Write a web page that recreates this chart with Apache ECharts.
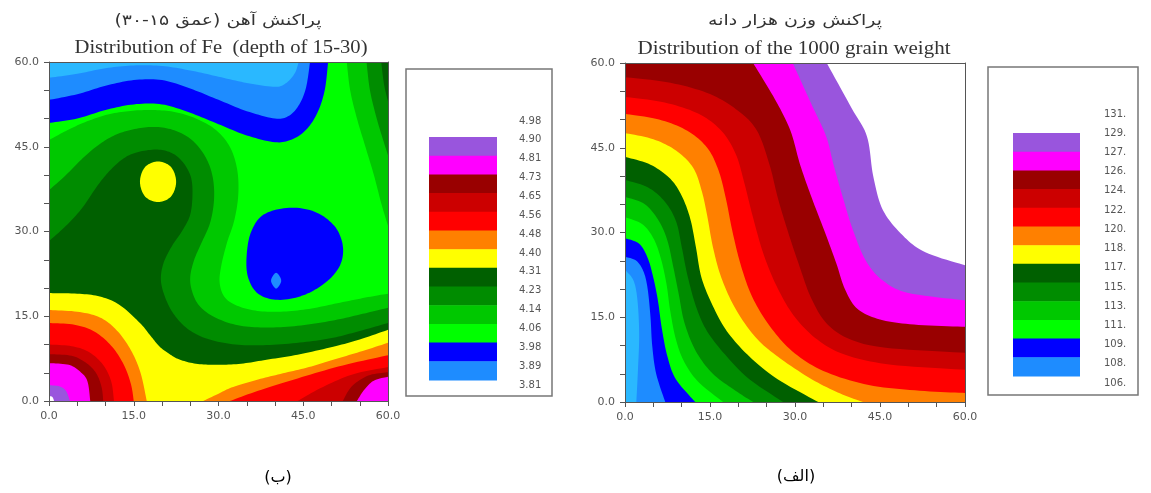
<!DOCTYPE html>
<html><head><meta charset="utf-8">
<script src="https://cdn.jsdelivr.net/npm/echarts@6/dist/echarts.min.js"></script>
<style>html,body{margin:0;padding:0;background:#fff}#c{width:1151px;height:493px}</style>
</head><body><div id="c"></div>
<script>
// ================= DATA =================
const axisTicks = [0, 15, 30, 45, 60];
const tickLabels = ['0.0', '15.0', '30.0', '45.0', '60.0'];

// Fe (depth 15-30) contour levels and legend labels
const feLevels = [3.81, 3.89, 3.98, 4.06, 4.14, 4.23, 4.31, 4.40, 4.48, 4.56, 4.65, 4.73, 4.81, 4.90, 4.98];
const feLabels = ['3.81', '3.89', '3.98', '4.06', '4.14', '4.23', '4.31', '4.40', '4.48', '4.56', '4.65', '4.73', '4.81', '4.90', '4.98'];

// 1000-grain weight contour levels and legend labels
const grainLevels = [106, 108, 109, 111, 113, 115, 117, 118, 120, 122, 124, 126, 127, 129, 131];
const grainLabels = ['106.', '108.', '109.', '111.', '113.', '115.', '117.', '118.', '120.', '122.', '124.', '126.', '127.', '129.', '131.'];

// contour regions: [level, side ('lo' = values below, 'hi' = values above), closing corners or 'closed', contour points [x, y]]
const feContours = [
  [3.98, 'lo', 'TL', [[0,49.2],[5,50],[10,51.5],[15,52.5],[20,52.5],[25,51],[30,49],[35,47],[40,45.8],[43,46.3],[45.5,48],[47.5,51],[48.8,55],[49.4,60]]],
  [3.89, 'lo', 'TL', [[0,53.3],[5,54.3],[10,55.8],[15,56.8],[20,56.8],[25,55.3],[30,53.3],[35,51.3],[40,50],[42.5,50.5],[44.3,52.5],[45.5,55.5],[46.2,60]]],
  [3.81, 'lo', 'TL', [[0,57.2],[5,57.9],[10,58.9],[15,59.4],[20,59.3],[25,58.5],[30,57.4],[35,56.3],[40,55.6],[42,56.3],[43.5,58],[44.2,60]]],
  [3.98, 'lo', 'closed', [[38,33],[42.5,34.2],[47,33.5],[50.5,31],[52,27.5],[51.5,24],[49,21],[45,18.7],[40.5,17.9],[37,19],[35.2,22],[35,26],[35.8,30]]],
  [3.89, 'lo', 'closed', [[40.2,22.7],[41.1,21.3],[40.2,19.9],[39.3,21.3]]],
  [4.06, 'hi', 'BR BL', [[0,46.2],[3,47.8],[6,49.2],[10,50.6],[14,51.3],[18,51.5],[22,51.2],[26,50],[29.5,48],[32,45],[33.3,41],[33.5,36.5],[32.8,32],[31.5,28],[30.5,24],[30.2,21],[31,18.5],[33,17],[36.5,16],[41,15.8],[46,16.3],[51,17.3],[56,18.3],[60,19]]],
  [4.06, 'hi', 'TR', [[52.7,60],[53.3,55],[54.5,50],[56,45],[57.5,40],[58.8,35],[60,31]]],
  [4.14, 'hi', 'BR BL', [[0,37.3],[3,40],[6,43],[9,45.5],[12,47.2],[15.5,48.2],[19,48.5],[22.5,47.8],[25.5,46],[27.8,43],[29,39.5],[29.2,35.5],[28.5,31.5],[27,28],[25.7,25],[25,22],[25.3,19.5],[26.5,17],[29,15],[33,13.5],[38,13],[44,13.3],[50,14.2],[55,15.3],[60,16.5]]],
  [4.14, 'hi', 'TR', [[56.2,60],[56.8,55],[58,50],[59.2,46],[60,43.5]]],
  [4.23, 'hi', 'BR BL', [[0,28.3],[3,31],[5.9,34.2],[8.5,38],[10.6,40.6],[13,42.8],[15.5,44],[18.9,44.5],[21.5,44],[23.5,42.5],[25,40],[25.4,37],[25,33],[23.5,30],[21.8,27.5],[20.3,24.5],[19.8,21.5],[20.5,18.5],[22,15.5],[24.5,12.8],[28,11],[33,10],[38.5,9.9],[45,10.4],[50.3,11.2],[55,12.4],[60,13.8]]],
  [4.23, 'hi', 'TR', [[58.8,60],[59.3,56],[60,53]]],
  [4.31, 'hi', 'BR BL', [[0,19.1],[5,19],[9,18.5],[12.5,17],[16.1,13.8],[18,11.5],[19.6,9.6],[21.5,8.2],[23.2,7.3],[26,6.6],[29.7,6.4],[34,6.6],[38.5,7.3],[44,8.2],[50.3,9.6],[55,10.9],[60,12.6]]],
  [4.31, 'hi', 'closed', [[19.3,42.4],[21.6,41.4],[22.5,38.8],[21.6,36.2],[19.3,35.2],[17,36.2],[16.1,38.8],[17,41.4]]],
  [4.40, 'hi', 'BL', [[0,16.1],[5,15.8],[9,14.8],[12,12.5],[14.5,9],[16.2,5],[17.3,0]]],
  [4.40, 'hi', 'BR', [[27.3,0],[30,1.3],[32.6,2.5],[37,3.8],[41.4,4.9],[46,6],[50.3,7.3],[55,8.7],[60,10.3]]],
  [4.48, 'hi', 'BL', [[0,13.8],[4.5,13.5],[8,12.3],[11,9.8],[13.2,6.5],[14.5,3],[15,0]]],
  [4.48, 'hi', 'BR', [[32,0],[37,1.8],[44,4],[52,6.3],[60,8.1]]],
  [4.56, 'hi', 'BL', [[0,10],[4,9.7],[7,8.7],[9.5,6.5],[11,3.5],[11.5,0]]],
  [4.56, 'hi', 'BR', [[44,0],[48.5,2.5],[54,4.8],[60,6]]],
  [4.65, 'hi', 'BL', [[0,8.3],[4,8],[6.5,6.8],[8.3,5],[9.3,2.5],[9.6,0]]],
  [4.65, 'hi', 'BR', [[52,0],[53.6,2.6],[56.5,4.5],[60,5.1]]],
  [4.73, 'hi', 'BL', [[0,6.7],[3.5,6.4],[5.5,5.2],[6.8,3.5],[7.3,0]]],
  [4.73, 'hi', 'BR', [[54.5,0],[55.8,2],[57.5,3.6],[60,4.3]]],
  [4.81, 'hi', 'BL', [[0,2.8],[1.8,2.6],[3,1.8],[3.7,0]]],
  [4.90, 'hi', 'BL', [[0,0.9],[0.6,0.7],[0.9,0]]]
];

const grainContours = [
  [106, 'hi', 'BR TR TL', [[0,23.4],[1.5,21.5],[2.2,18],[2.5,12],[2.3,6],[2,0]]],
  [108, 'hi', 'BR TR TL', [[0,25.7],[2,25],[3.3,23],[4,20],[4.5,15],[4.8,10],[5.5,5],[7.1,0]]],
  [109, 'hi', 'BR TR TL', [[0,29],[2.5,28],[4,25.5],[5,22],[5.8,18],[6.5,13],[7.5,8],[9,4],[12.4,0]]],
  [111, 'hi', 'BR TR TL', [[0,32.7],[3,31.5],[5,29],[6.3,25.5],[7.3,21],[8,16],[9,11],[10.5,7],[13,3.5],[17.3,0]]],
  [113, 'hi', 'BR TR TL', [[0,36.3],[3.5,35],[6,32],[7.5,28.5],[8.5,24],[9.5,19],[10.5,14],[12.5,9],[15.5,5],[19.5,2],[22.6,0]]],
  [115, 'hi', 'BR TR TL', [[0,39.3],[4,38],[7,35.5],[9,32],[10,27.5],[11,22.5],[12.5,17],[14.5,12.5],[18,8],[22,4],[27.9,0]]],
  [117, 'hi', 'BR TR TL', [[0,43.4],[4.5,42],[8,39.5],[10,36.5],[11.5,32.5],[12.5,27.5],[13.5,22],[15.5,17],[18,12.5],[22,8],[27,4],[34.1,0]]],
  [118, 'hi', 'BR TR TL', [[0,47.6],[5,46.5],[9,44.5],[12,41.5],[13.5,37.5],[14.5,33],[15.5,27.5],[17,22],[19.5,16.5],[23,11.5],[27,8],[33,4],[38,1.5],[42,0]]],
  [120, 'hi', 'TR TL', [[0,51],[6,50],[11,48],[14.5,45],[16.5,41],[17.8,36],[19,30],[20.5,24],[22.5,18.5],[25.5,13.5],[29.5,9],[35,5.5],[43,3],[52,2],[60,1.6]]],
  [122, 'hi', 'TR TL', [[0,54],[7,53],[13,51],[17,48],[19.5,44],[21,39],[22.5,33],[24.5,26],[27,20],[30,15],[34,11],[39,8.3],[47,6.6],[60,5.7]]],
  [124, 'hi', 'TR TL', [[0,57.5],[8,56.5],[15,54.5],[20,51.5],[23.3,48],[25.5,42],[27,36],[28.8,30],[30.8,24],[32.8,18.5],[35.5,14],[39.5,11.2],[46,9.6],[60,8.7]]],
  [126, 'hi', 'TR', [[22.6,60],[26.5,53.5],[29.2,48],[30.9,42],[33,36],[35.3,30],[37.3,24.5],[38.8,20],[41,16.5],[45,14.6],[51,13.7],[60,13.3]]],
  [127, 'hi', 'TR', [[29.6,60],[33,52.5],[35.5,47],[36.8,42],[38.5,36],[40.2,30.5],[42.5,25],[45.5,21.5],[50,19.3],[60,18]]],
  [129, 'hi', 'TR', [[35.6,60],[40,52],[42.7,47],[43.8,40],[45.5,34],[49,29.5],[53,26.5],[60,24.2]]]
];

// ================= STYLE / LAYOUT =================
// palette index i = band between level[i-1] and level[i]
const palette = ['#2ab8ff', '#1e8cff', '#0000ff', '#00ff00', '#00c800', '#008c00', '#006000',
  '#ffff00', '#ff8000', '#ff0000', '#cc0000', '#990000', '#ff00ff', '#9955dd', '#ffffff', '#ffffff'];
const AXMIN = 0, AXMAX = 60;
const CORNERS = { TL: [AXMIN, AXMAX], TR: [AXMAX, AXMAX], BR: [AXMAX, AXMIN], BL: [AXMIN, AXMIN] };
const AXC = '#555';

function spline(p, closed) {
  const n = p.length, out = [], steps = 10;
  const get = i => closed ? p[(i + n) % n] : p[Math.max(0, Math.min(n - 1, i))];
  const segs = closed ? n : n - 1;
  for (let i = 0; i < segs; i++) {
    const p0 = get(i - 1), p1 = get(i), p2 = get(i + 1), p3 = get(i + 2);
    for (let s = 0; s < steps; s++) {
      const t = s / steps, t2 = t * t, t3 = t2 * t;
      const f = k => 0.5 * (2 * p1[k] + (-p0[k] + p2[k]) * t + (2 * p0[k] - 5 * p1[k] + 4 * p2[k] - p3[k]) * t2 + (-p0[k] + 3 * p1[k] - 3 * p2[k] + p3[k]) * t3);
      out.push([f(0), f(1)]);
    }
  }
  if (!closed) out.push(p[n - 1]);
  return out;
}

function colorFor(levels, level, side) {
  let k = 0;
  levels.forEach((l, i) => { if (Math.abs(l - level) < 1e-6) k = i; });
  return side === 'hi' ? palette[k + 1] : palette[k];
}

function contourSeries(list, levels, axisIdx) {
  return {
    type: 'custom', xAxisIndex: axisIdx, yAxisIndex: axisIdx, clip: true, silent: true, z: 2,
    data: list.map((c, i) => ({ value: [30, 30, c[0]], name: String(i) })),
    renderItem: function (params, api) {
      const c = list[params.dataIndex];
      const px = c[3].map(p => api.coord(p));
      let poly;
      if (c[2] === 'closed') poly = spline(px, true);
      else {
        poly = spline(px, false);
        c[2].split(' ').forEach(k => poly.push(api.coord(CORNERS[k])));
      }
      return { type: 'polygon', shape: { points: poly }, style: { fill: colorFor(levels, c[0], c[1]), stroke: null } };
    }
  };
}

function axisPair(gi) {
  const common = { gridIndex: gi, type: 'value', min: AXMIN, max: AXMAX, interval: 15, z: 10,
    splitLine: { show: false } };
  const main = Object.assign({}, common, {
    axisLine: { show: true, onZero: false, lineStyle: { color: AXC, width: 1 } },
    axisTick: { show: true, length: 5, lineStyle: { color: AXC } },
    minorTick: { show: true, splitNumber: 3, length: 5, lineStyle: { color: AXC } },
    minorSplitLine: { show: false },
    axisLabel: { fontFamily: 'DejaVu Sans', fontSize: 11, color: '#555', margin: 10,
      formatter: v => tickLabels[axisTicks.indexOf(v)] || '' }
  });
  const frame = Object.assign({}, common, {
    axisLine: { show: true, onZero: false, lineStyle: { color: AXC, width: 1 } },
    axisTick: { show: false }, axisLabel: { show: false }
  });
  return { main, frame };
}

const xa0 = axisPair(0), ya0 = axisPair(0), xa1 = axisPair(1), ya1 = axisPair(1);

// text measuring to fit widths
const mctx = document.createElement('canvas').getContext('2d');
function fitText(text, font, x, y, targetW, fill) {
  mctx.font = font;
  const w = mctx.measureText(text).width;
  return { type: 'text', x: x, y: y, scaleX: targetW / w, z: 20,
    style: { text: text, font: font, fill: fill, align: 'center', verticalAlign: 'middle' } };
}

function legend(box, bar, labX, labTop, labBot, labels) {
  const g = [];
  g.push({ type: 'rect', shape: box, z: 20, style: { fill: '#fff', stroke: '#777', lineWidth: 1.5 } });
  const nb = 13, bh = bar.h / nb;
  for (let j = 0; j < nb; j++) {
    const k = 13 - j; // top purple .. bottom dodger
    g.push({ type: 'rect', z: 21, shape: { x: bar.x, y: bar.y + j * bh, width: bar.w, height: bh + 0.5 },
      style: { fill: palette[k] } });
  }
  const n = labels.length, step = (labBot - labTop) / (n - 1);
  for (let i = 0; i < n; i++) {
    g.push({ type: 'text', z: 22, x: labX, y: labBot - i * step,
      style: { text: labels[i], font: '10px DejaVu Sans', fill: '#555', align: 'left', verticalAlign: 'middle' } });
  }
  return g;
}

const RLM = '\u200F';
const graphics = [].concat(
  [
    fitText(RLM + 'پراکنش آهن (عمق ۱۵-۳۰)' + RLM, '15px DejaVu Sans', 218, 21, 207, '#333'),
    fitText('Distribution of Fe  (depth of 15-30)', '18px Liberation Serif', 221, 48, 293, '#333'),
    fitText(RLM + 'پراکنش وزن هزار دانه' + RLM, '15px DejaVu Sans', 795, 21, 174, '#333'),
    fitText('Distribution of the 1000 grain weight', '18px Liberation Serif', 794, 49, 313, '#333'),
    { type: 'text', x: 278, y: 478, z: 20, style: { text: RLM + '(ب)' + RLM, font: '16px DejaVu Sans', fill: '#000', align: 'center', verticalAlign: 'middle' } },
    { type: 'text', x: 796, y: 477, z: 20, style: { text: RLM + '(الف)' + RLM, font: '16px DejaVu Sans', fill: '#000', align: 'center', verticalAlign: 'middle' } }
  ],
  legend({ x: 406, y: 69, width: 146, height: 327 }, { x: 429, y: 137, w: 68, h: 243 }, 519, 121, 385, feLabels),
  legend({ x: 988, y: 67, width: 150, height: 328 }, { x: 1013, y: 133, w: 67, h: 243 }, 1104, 114, 383, grainLabels)
);

const chart = echarts.init(document.getElementById('c'), null, { renderer: 'canvas' });
chart.setOption({
  animation: false,
  backgroundColor: '#fff',
  grid: [
    { left: 49, top: 62, width: 339, height: 339, show: true, backgroundColor: palette[3], borderWidth: 0 },
    { left: 625, top: 63, width: 340, height: 339, show: true, backgroundColor: palette[0], borderWidth: 0 }
  ],
  xAxis: [
    Object.assign({}, xa0.main, { position: 'bottom' }), Object.assign({}, xa0.frame, { position: 'top' }),
    Object.assign({}, xa1.main, { position: 'bottom' }), Object.assign({}, xa1.frame, { position: 'top' })
  ],
  yAxis: [
    Object.assign({}, ya0.main, { position: 'left' }), Object.assign({}, ya0.frame, { position: 'right' }),
    Object.assign({}, ya1.main, { position: 'left' }), Object.assign({}, ya1.frame, { position: 'right' })
  ],
  series: [
    contourSeries(feContours, feLevels, 0),
    contourSeries(grainContours, grainLevels, 2)
  ],
  graphic: graphics
});
</script>
</body></html>
